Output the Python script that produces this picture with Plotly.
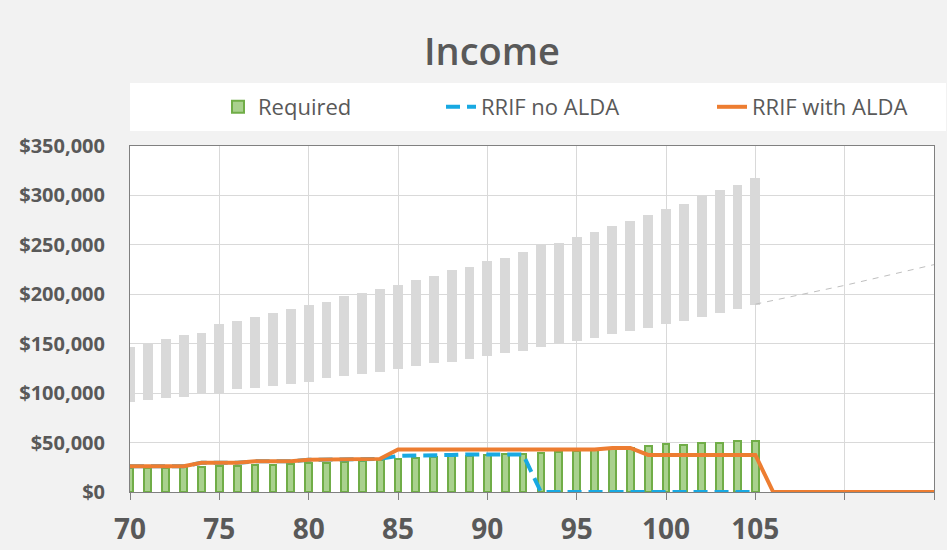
import plotly.graph_objects as go

# ---------------- data ----------------
ages = list(range(70, 106))
range_low = [91, 93, 95, 96, 99, 99, 104, 105, 107, 109, 111, 115, 117, 119, 121, 124, 127, 130,
             132, 135, 138, 141, 143, 147, 150, 153, 156, 160, 163, 166, 170, 173, 177, 181, 185, 189]
range_high = [147, 150, 155, 159, 161, 170, 173, 177, 181, 185, 189, 192, 198, 201, 205, 209, 214, 219,
              225, 228, 234, 237, 243, 250, 252, 258, 263, 269, 274, 280, 286, 291, 300, 305, 311, 318]
trend_ages = [105, 110, 115]
trend_vals = [190, 209, 230]

required = [24, 24, 24.5, 25, 25.5, 26, 26.5, 27, 27.5, 28, 29, 29.5, 30, 31, 32, 33, 34, 35,
            36, 36.5, 37, 38, 38.5, 39.5, 40.5, 41.5, 42.5, 43.5, 44.5, 46.5, 48.5, 48, 50, 50, 52, 52]

alda_ages = list(range(70, 116))
rrif_with_alda = [26, 26, 26, 26, 29.5, 29.5, 29.5, 31, 31, 31, 32.5, 32.5, 32.5, 33.5, 33.5,
                  43, 43, 43, 43, 43, 43, 43, 43, 43, 43, 43, 43, 44.5, 44.5,
                  37.5, 37.5, 37.5, 37.5, 37.5, 37.5, 37.5,
                  0, 0, 0, 0, 0, 0, 0, 0, 0, 0]
no_alda_ages = list(range(70, 106))
rrif_no_alda = [26, 26, 26, 26, 29.5, 29.5, 29.5, 31, 31, 31, 32.5, 32.5, 32.5, 33.5, 33.5,
                36.5, 36.5, 37, 37.5, 38, 38, 38, 38,
                0, 0, 0, 0, 0, 0, 0, 0, 0, 0, 0, 0, 0]

x_tick_vals = [70, 75, 80, 85, 90, 95, 100, 105, 110, 115]
x_tick_text = ["70", "75", "80", "85", "90", "95", "100", "105", "", ""]

K = 1000
txt = "#595959"
font = "Open Sans"

fig = go.Figure()

# grey floating range bars
fig.add_trace(go.Bar(
    x=ages, y=[(h - l) * K for h, l in zip(range_high, range_low)], base=[l * K for l in range_low],
    width=0.55, marker=dict(color="#d9d9d9", line=dict(width=0)), showlegend=False, hoverinfo="skip"))
fig.add_trace(go.Scatter(
    x=trend_ages, y=[v * K for v in trend_vals], mode="lines",
    line=dict(color="#bfbfbf", width=1, dash="6px,6px"), showlegend=False, hoverinfo="skip"))

# required bars
fig.add_trace(go.Bar(
    x=ages, y=[v * K for v in required], name="Required", width=0.38,
    marker=dict(color="#a9d18e", line=dict(color="#70ad47", width=2)), legend="legend"))

fig.add_trace(go.Scatter(
    x=no_alda_ages, y=[v * K for v in rrif_no_alda], name="RRIF no ALDA", mode="lines",
    line=dict(color="#18a9e2", width=4, dash="14px,7px"), legend="legend2"))
fig.add_trace(go.Scatter(
    x=alda_ages, y=[v * K for v in rrif_with_alda], name="RRIF with ALDA", mode="lines",
    line=dict(color="#ed7d31", width=4), legend="legend3"))

leg_common = dict(orientation="h", bgcolor="rgba(0,0,0,0)", font=dict(family=font, size=22, color=txt),
                  yanchor="middle", y=(492 - 107) / 346, xanchor="left")

fig.update_layout(
    width=947, height=550,
    margin=dict(l=130, r=13, t=146, b=58, autoexpand=False),
    paper_bgcolor="#f2f2f2", plot_bgcolor="#ffffff",
    barmode="overlay", bargap=0,
    title=dict(text="Income", x=492 / 947, xanchor="center", y=1 - 52 / 550, yanchor="middle",
               font=dict(family=font, size=38, color=txt, weight=600)),
    legend=dict(**leg_common, x=(218 - 130) / 804),
    legend2=dict(**leg_common, x=(441 - 130) / 804),
    legend3=dict(**leg_common, x=(712 - 130) / 804),
    shapes=[dict(type="rect", xref="paper", yref="paper", x0=0, x1=(946 - 130) / 804,
                 y0=(492 - 131) / 346, y1=(492 - 83) / 346, fillcolor="#ffffff", line=dict(width=0),
                 layer="below")],
    xaxis=dict(range=[70, 115], tickmode="array", tickvals=x_tick_vals, ticktext=x_tick_text,
               showgrid=True, gridcolor="#d9d9d9", gridwidth=1,
               showline=True, linecolor="#808080", linewidth=1, mirror=True,
               ticks="outside", ticklen=7, tickcolor="#808080", automargin=False, ticklabelstandoff=5,
               tickfont=dict(family=font, size=28, color=txt, weight="bold"), zeroline=False),
    yaxis=dict(range=[0, 350000], dtick=50000, tickformat="$,.0f",
               showgrid=True, gridcolor="#d9d9d9", gridwidth=1,
               showline=True, linecolor="#808080", linewidth=1, mirror=True,
               ticks="", ticklabelstandoff=20, automargin=False,
               tickfont=dict(family=font, size=20, color=txt, weight="bold"), zeroline=False),
)

fig.write_html("out.html", config={"displayModeBar": False},
               post_script="document.body.style.margin='0';document.body.style.background='#f2f2f2';")
